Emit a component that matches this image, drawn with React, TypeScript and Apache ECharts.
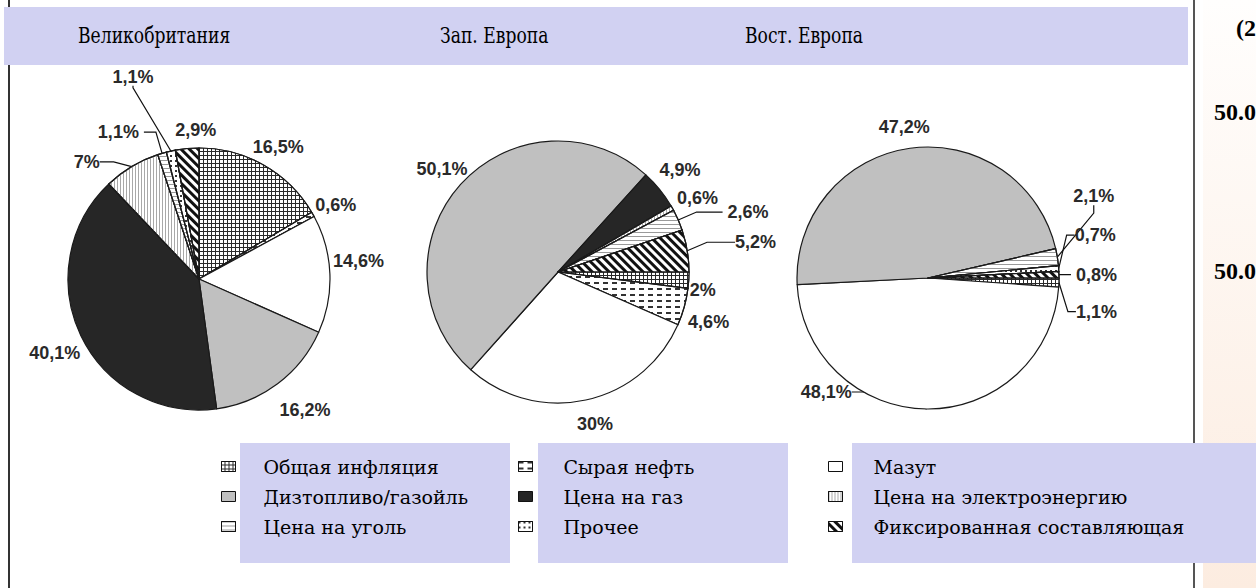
import React, { useEffect, useRef } from 'react';
import * as echarts from 'echarts';

// ---------------- data ----------------
const regions = ['Великобритания', 'Зап. Европа', 'Вост. Европа'];
const categories = [
  'Общая инфляция',
  'Сырая нефть',
  'Мазут',
  'Дизтопливо/газойль',
  'Цена на газ',
  'Цена на электроэнергию',
  'Цена на уголь',
  'Прочее',
  'Фиксированная составляющая',
];
const ukShares = [16.5, 0.6, 14.6, 16.2, 40.1, 7, 1.1, 1.1, 2.9];
const westShares = [2, 4.6, 30, 50.1, 4.9, 0.6, 2.6, 0, 5.2];
const eastShares = [1.1, 0, 48.1, 47.2, 0, 0, 2.1, 0.7, 0.8];
const legendColumns = [
  ['Общая инфляция', 'Дизтопливо/газойль', 'Цена на уголь'],
  ['Сырая нефть', 'Цена на газ', 'Прочее'],
  ['Мазут', 'Цена на электроэнергию', 'Фиксированная составляющая'],
];
const sideLabels = ['(2', '50.0', '50.0'];

// ---------------- styles ----------------
const LAVENDER = '#D1D1F2';
const SERIF = 'DejaVu Serif';
const LATIN_SERIF = 'Liberation Serif';
const SANS = 'Liberation Sans';

const decal = (o: any) => ({ symbol: 'rect', symbolSize: 1, symbolKeepAspect: false, ...o });
const sliceStyles: Record<string, any> = {
  'Общая инфляция': { color: '#2a2a2a', decal: decal({ color: '#ffffff', dashArrayX: [3, 1], dashArrayY: [3, 1] }) },
  'Сырая нефть': { color: '#ffffff', decal: decal({ color: '#333333', dashArrayX: [5, 4], dashArrayY: [1.5, 4] }) },
  'Мазут': { color: '#ffffff' },
  'Дизтопливо/газойль': { color: '#c0c0c0' },
  'Цена на газ': { color: '#262626' },
  'Цена на электроэнергию': { color: '#ffffff', decal: decal({ color: '#a8a8a8', dashArrayX: [1, 1.5], dashArrayY: [4, 0] }) },
  'Цена на уголь': { color: '#ffffff', decal: decal({ color: '#9a9a9a', dashArrayX: [4, 0], dashArrayY: [1, 3] }) },
  'Прочее': { color: '#ffffff', decal: decal({ color: '#333333', dashArrayX: [1.5, 3], dashArrayY: [1.5, 3] }) },
  'Фиксированная составляющая': {
    color: '#ffffff',
    decal: decal({ color: '#111111', dashArrayX: [4, 0], dashArrayY: [2.5, 3], rotation: Math.PI / 4 }),
  },
};

const pieLayout = [
  { center: [199, 279], radius: 131, startAngle: 90 },
  { center: [558, 272], radius: 131, startAngle: 0 },
  { center: [928, 278], radius: 131, startAngle: 0 },
];

type Tweak = { line?: boolean; len: number; len2?: number; dx?: number; dy?: number; align?: string };
const labelTweaks: Record<number, Tweak>[] = [
  {
    0: { len: 8, dx: -20, dy: -11 },
    1: { len: 6, dx: -8, dy: -6 },
    2: { len: 4, dx: -6, dy: -13 },
    3: { len: 10, dx: -9, dy: 18 },
    4: { len: 4, dx: 8, dy: 16 },
    5: { line: true, len: 2, len2: 14, dx: -12, dy: -3 },
    6: { line: true, len: 22, len2: 12 },
    7: { line: true, len: 76, len2: 2, dx: 6 },
    8: { len: 10, dx: -6, dy: -9, align: 'left' },
  },
  {
    0: { len: 2, dx: -6, dy: 10 },
    1: { len: 4, dx: -5, dy: 14 },
    2: { len: 10, dx: -16, dy: 14 },
    3: { len: 8, dx: 18, dy: -10 },
    4: { len: 10, dx: -13, dy: -13 },
    5: { len: 4, dx: -4, dy: -8 },
    6: { line: true, len: 20, len2: 26 },
    8: { line: true, len: 15, len2: 28, dy: -6 },
  },
  {
    0: { line: true, len: 4, len2: 8, dy: 29 },
    2: { line: true, len: 8, len2: 12, dx: -58, dy: -25 },
    3: { len: 8, dx: 26, dy: -13 },
    6: { line: true, len: 6, len2: 8, dx: -3, dy: -60 },
    7: { line: true, len: 6, len2: 8, dx: -3, dy: -33 },
    8: { line: true, len: 4, len2: 8 },
  },
];

const legendLayout = [
  { left: 221, pad: 23 },
  { left: 518, pad: 26 },
  { left: 828, pad: 26 },
];

const fmt = (v: number) => String(v).replace('.', ',') + '%';

function buildOption() {
  const shares = [ukShares, westShares, eastShares];
  const series = shares.map((vals, s) => {
    const items = categories
      .map((name, i) => ({ name, value: vals[i], cat: i }))
      .filter((d) => d.value > 0);
    const catOf = items.map((d) => d.cat);
    const tw = labelTweaks[s];
    return {
      type: 'pie',
      center: pieLayout[s].center,
      radius: pieLayout[s].radius,
      startAngle: pieLayout[s].startAngle,
      clockwise: true,
      avoidLabelOverlap: false,
      emphasis: { disabled: true },
      itemStyle: { borderColor: '#1a1a1a', borderWidth: 1.2 },
      label: {
        show: true,
        position: 'outside',
        formatter: (p: any) => fmt(p.value),
        fontFamily: SANS,
        fontSize: 18,
        fontWeight: 'bold',
        color: '#2a2a2a',
        distanceToLabelLine: 5,
      },
      labelLine: { show: false, length: 8, length2: 0, smooth: false, lineStyle: { color: '#111', width: 1.2 } },
      labelLayout: (params: any) => {
        const t = tw[catOf[params.dataIndex]];
        if (!t || (t.dx == null && t.dy == null && !t.align)) return {};
        const r = params.labelRect;
        const ax = params.align === 'right' ? r.x + r.width : params.align === 'center' ? r.x + r.width / 2 : r.x;
        const ay = r.y + r.height / 2;
        const out: any = { x: ax + (t.dx || 0), y: ay + (t.dy || 0) };
        if (t.align) out.align = t.align;
        return out;
      },
      data: items.map((d) => {
        const t = tw[d.cat] || { len: 8 };
        return {
          name: d.name,
          value: d.value,
          itemStyle: sliceStyles[d.name],
          labelLine: { show: !!t.line, length: t.len, length2: t.len2 || 0 },
        };
      }),
    };
  });

  const legend = legendColumns.map((col, i) => ({
    orient: 'vertical',
    left: legendLayout[i].left,
    top: 457,
    padding: 0,
    itemWidth: 14,
    itemHeight: 10,
    itemGap: 11,
    icon: 'rect',
    selectedMode: false,
    data: col,
    itemStyle: { borderColor: '#111', borderWidth: 1 },
    textStyle: { fontFamily: SERIF, fontSize: 19, color: '#000', padding: [0, 0, 0, legendLayout[i].pad] },
  }));

  const headerX = [78, 440, 745];
  const sideY = [28, 112, 271];
  const graphic: any[] = [
    {
      type: 'rect',
      z: 0,
      shape: { x: 1203, y: 0, width: 60, height: 588 },
      style: {
        fill: new echarts.graphic.LinearGradient(0, 0, 0, 1, [
          { offset: 0, color: '#fffefd' },
          { offset: 1, color: '#fcece0' },
        ]),
      },
    },
    { type: 'line', z: 0, shape: { x1: 9, y1: 0, x2: 9, y2: 588 }, style: { stroke: '#333', lineWidth: 2 } },
    { type: 'line', z: 0, shape: { x1: 1194, y1: 0, x2: 1194, y2: 588 }, style: { stroke: '#555', lineWidth: 2 } },
    { type: 'rect', z: 0, shape: { x: 4, y: 7, width: 1184, height: 58 }, style: { fill: LAVENDER } },
    { type: 'rect', z: 0, shape: { x: 240, y: 443, width: 270, height: 120 }, style: { fill: LAVENDER } },
    { type: 'rect', z: 0, shape: { x: 538, y: 443, width: 250, height: 120 }, style: { fill: LAVENDER } },
    { type: 'rect', z: 0, shape: { x: 852, y: 443, width: 404, height: 120 }, style: { fill: LAVENDER } },
    ...regions.map((t, i) => ({
      type: 'text',
      z: 10,
      x: headerX[i],
      y: 36,
      scaleX: 0.78,
      style: { text: t, fontFamily: SERIF, fontSize: 22, fill: '#000', verticalAlign: 'middle' },
    })),
    ...sideLabels.map((t, i) => ({
      type: 'text',
      z: 10,
      x: i === 0 ? 1236 : 1214,
      y: sideY[i],
      style: { text: t, fontFamily: LATIN_SERIF, fontSize: 24, fontWeight: 'bold', fill: '#000', verticalAlign: 'middle' },
    })),
  ];

  return {
    animation: false,
    backgroundColor: '#ffffff',
    legend,
    graphic,
    series,
  };
}

export default function App() {
  const ref = useRef<HTMLDivElement>(null);
  useEffect(() => {
    if (!ref.current) return;
    const chart = echarts.init(ref.current, undefined, { renderer: 'svg' });
    chart.setOption(buildOption() as any);
    return () => chart.dispose();
  }, []);
  return (
    <div
      ref={ref}
      style={{ position: 'fixed', left: 0, top: 0, width: 1256, height: 588, background: '#fff' }}
    />
  );
}
